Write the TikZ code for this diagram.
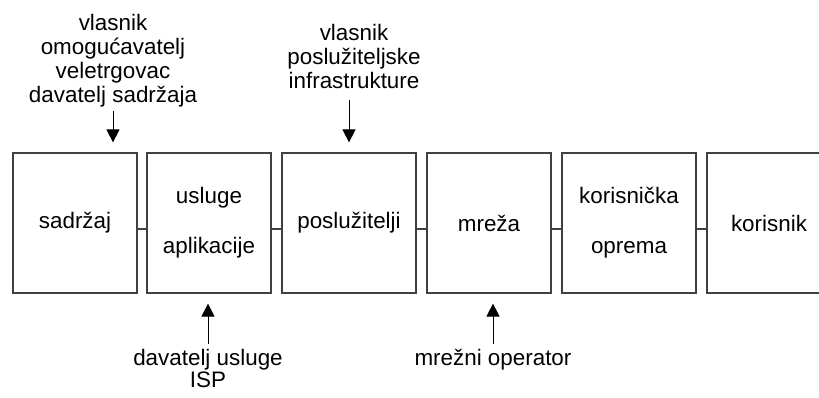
\documentclass[tikz,border=0pt]{standalone}
\usepackage{fontspec}
\setmainfont{Liberation Sans}
\usetikzlibrary{arrows.meta}

\begin{document}
\begin{tikzpicture}[x=0.5pt, y=0.5pt,
		box/.style={draw=black!75, line width=0.6pt, minimum width=62pt, minimum height=70pt, align=center, font=\fontsize{11.2}{25}\selectfont},
		widebox/.style={box, minimum width=67pt},
		lbl/.style={align=center, inner sep=0pt, font=\fontsize{11.2}{12}\selectfont},
		link/.style={draw=black!75, line width=0.6pt},
		arr/.style={line width=0.5pt, -{Triangle[width=6.5pt, length=6.5pt]}}]
		\clip (0,0) rectangle (819,397);

		\draw (75,174) node[box] (sadrzaj) {sadržaj};
		\draw (209,174) node[box] (usluge) {usluge\\aplikacije};
		\draw (349,174) node[widebox] (posluzitelji) {poslužitelji};
		\draw (489,174) node[box] (mreza) {mreža};
		\draw (629,174) node[widebox] (oprema) {korisnička\\oprema};
		\draw (769,174) node[box] (korisnik) {korisnik};

		\draw (113,289) node[lbl, anchor=south] (vlasnik) {vlasnik\\omogućavatelj\\veletrgovac\\davatelj sadržaja};
		\draw (354,308) node[lbl, anchor=south] (infra) {vlasnik\\poslužiteljske\\infrastrukture};
		\draw (208,48) node[lbl, anchor=north, font=\fontsize{11.2}{11}\selectfont] (isp) {davatelj usluge\\ISP};
		\draw (493,48) node[lbl, anchor=north] (operator) {mrežni operator};

		\foreach \a/\b in {sadrzaj/usluge, usluge/posluzitelji, posluzitelji/mreza, mreza/oprema, oprema/korisnik}
			\draw[link] ([yshift=-3pt]\a.east) -- ([yshift=-3pt]\b.west);

		\draw[arr, shorten <=1.5pt, shorten >=5pt] (vlasnik.south) -- (vlasnik.south |- sadrzaj.north);
		\draw[arr, shorten <=5.5pt, shorten >=5pt] (posluzitelji.north |- infra.south) -- (posluzitelji.north);
		\draw[arr, shorten <=2.5pt, shorten >=5pt] (isp.north) -- (isp.north |- usluge.south);
		\draw[arr, shorten <=2.5pt, shorten >=5pt] (operator.north) -- (operator.north |- mreza.south);
	\end{tikzpicture}
\end{document}
